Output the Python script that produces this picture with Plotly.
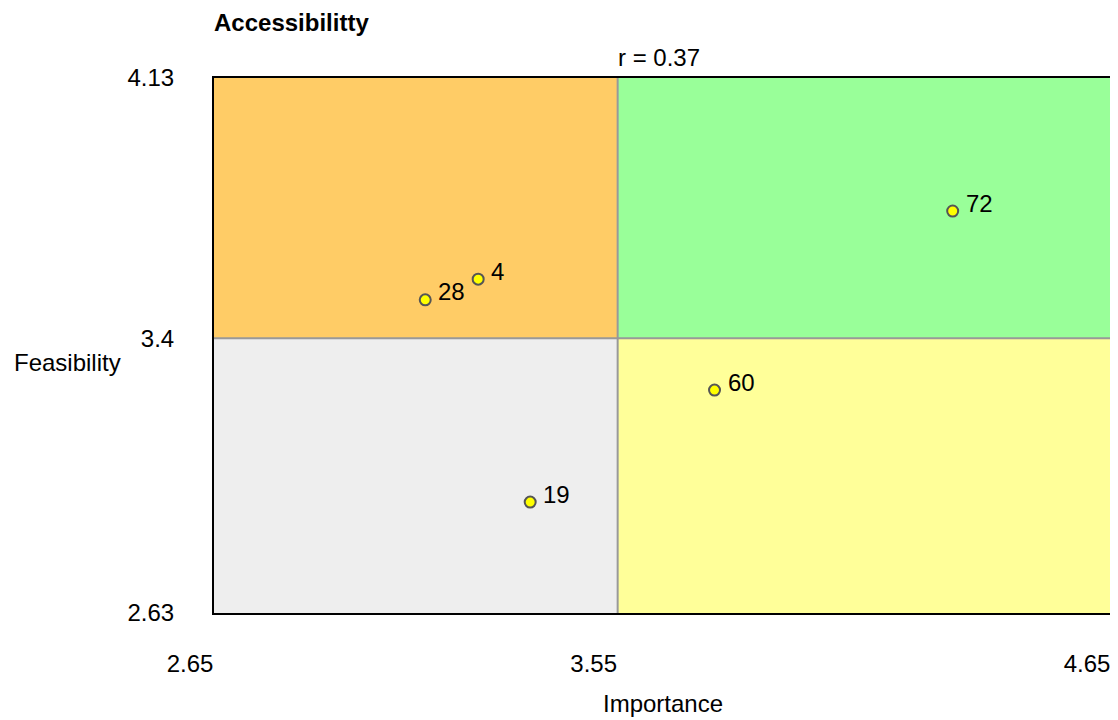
import plotly.graph_objects as go

# ── Data ──────────────────────────────────────────────────────────────────────
ids        = ["72", "4", "28", "60", "19"]
importance = [4.297, 3.239, 3.121, 3.766, 3.355]
feasibility = [3.757, 3.566, 3.508, 3.255, 2.941]

x_ticks = [2.65, 3.55, 4.65]
y_ticks = [2.63, 3.4, 4.13]
x_tick_labels = ["2.65", "3.55", "4.65"]
y_tick_labels = ["2.63", "3.4", "4.13"]

r_value = 0.37
title_text = "Accessibilitty"

FONT = "Liberation Sans, Arial, sans-serif"
FS = 24

# ── Quadrants ─────────────────────────────────────────────────────────────────
x0, xm, x1 = x_ticks
y0, ym, y1 = y_ticks
quads = [
    (x0, xm, ym, y1, "#FFCC66"),   # top left
    (xm, x1, ym, y1, "#99FF99"),   # top right
    (x0, xm, y0, ym, "#EEEEEE"),   # bottom left
    (xm, x1, y0, ym, "#FFFF99"),   # bottom right
]
shapes = [dict(type="rect", xref="x", yref="y", x0=a, x1=b, y0=c, y1=d,
               fillcolor=col, line_width=0, layer="below")
          for a, b, c, d, col in quads]
shapes += [
    dict(type="line", xref="x", yref="y", x0=xm, x1=xm, y0=y0, y1=y1,
         line=dict(color="#999999", width=2), layer="below"),
    dict(type="line", xref="x", yref="y", x0=x0, x1=x1, y0=ym, y1=ym,
         line=dict(color="#999999", width=2), layer="below"),
]

fig = go.Figure()
fig.add_trace(go.Scatter(
    x=importance, y=feasibility, mode="markers",
    marker=dict(size=11, color="#FFFF00", line=dict(color="#555555", width=2)),
    hovertext=ids, showlegend=False,
))

annotations = [
    dict(x=xi, y=yi, xref="x", yref="y", text=t, showarrow=False,
         xanchor="left", yanchor="middle", xshift=11, yshift=8,
         font=dict(size=FS, color="black"))
    for xi, yi, t in zip(importance, feasibility, ids)
]
annotations += [
    dict(x=0, y=1, xref="paper", yref="paper", text=f"<b>{title_text}</b>",
         showarrow=False, xanchor="left", yanchor="middle", yshift=56, xshift=-2,
         font=dict(size=FS, color="black")),
    dict(x=xm, y=1, xref="x", yref="paper", text=f"r = {r_value:.2f}",
         showarrow=False, xanchor="left", yanchor="middle", yshift=21, xshift=-2,
         font=dict(size=FS, color="black")),
    dict(x=-0.2254, y=0.469, xref="paper", yref="paper", text="Feasibility",
         showarrow=False, xanchor="left", yanchor="middle",
         font=dict(size=FS, color="black")),
    dict(x=0.5, y=0, xref="paper", yref="paper", text="Importance",
         showarrow=False, xanchor="center", yanchor="middle", yshift=-90,
         font=dict(size=FS, color="black")),
]

# page body has an 8px margin, so the figure is drawn 8px in and 8px down
fig.update_layout(
    width=1110, height=712,
    margin=dict(l=206, r=7, t=70, b=107, autoexpand=False),
    plot_bgcolor="white", paper_bgcolor="white",
    font=dict(family=FONT, size=FS, color="black"),
    shapes=shapes, annotations=annotations,
    xaxis=dict(range=[x0, x1], tickvals=x_ticks, ticktext=x_tick_labels,
               showgrid=False, zeroline=False, showline=True, mirror=True,
               linecolor="black", linewidth=2, ticks="", automargin=False,
               ticklabelstandoff=28, ticklabelshift=-24),
    yaxis=dict(range=[y0, y1], tickvals=y_ticks, ticktext=y_tick_labels,
               showgrid=False, zeroline=False, showline=True, mirror=True,
               linecolor="black", linewidth=2, ticks="", automargin=False,
               ticklabelstandoff=33),
)

fig.write_html("out.html")
